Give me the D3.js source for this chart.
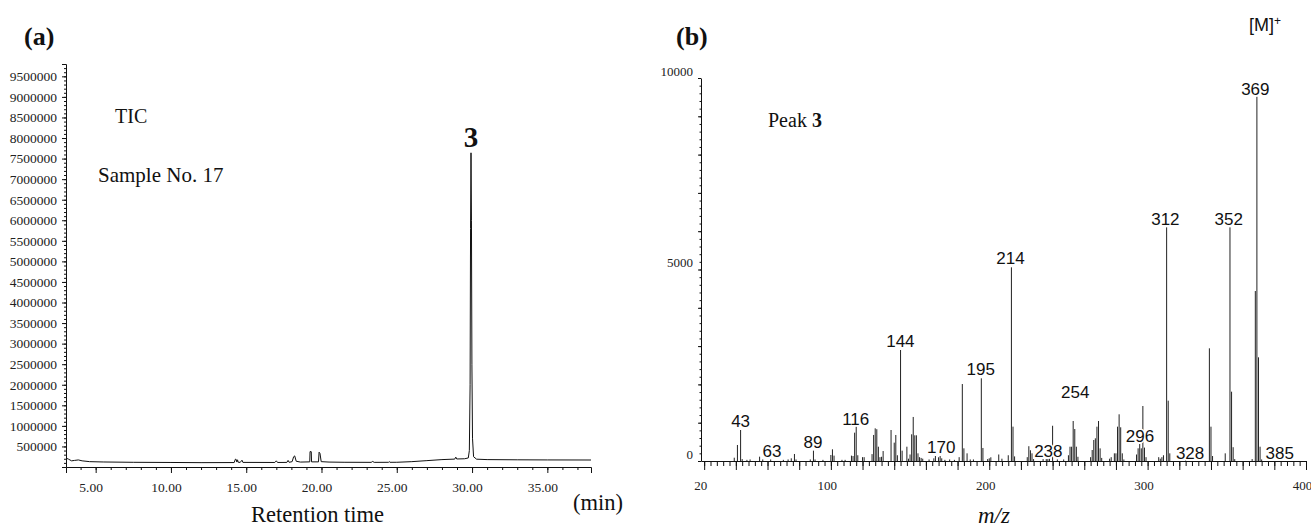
<!DOCTYPE html>
<html>
<head>
<meta charset="utf-8">
<script src="https://cdn.jsdelivr.net/npm/d3@7"></script>
<style>
  body { margin: 0; background: #fff; }
  .serif { font-family: "Liberation Serif", "Times New Roman", serif; }
  .sans { font-family: "Liberation Sans", Arial, sans-serif; }
  .axis path, .axis line { stroke: #111; }
</style>
</head>
<body>
<div id="chart-area"></div>
<script>
// (a) total ion chromatogram, time in min / abundance
var ticTime = [3.05, 3.2, 3.4, 3.6, 3.85, 4.1, 4.6, 5.5, 7.5, 10, 12, 14.2, 14.28, 14.33, 14.38, 14.42, 14.47,
    14.6, 14.72, 14.78, 16.9, 17.0, 17.08, 17.7, 17.78, 17.85, 18.05, 18.15, 18.22, 18.32, 18.6, 19.22, 19.24,
    19.32, 19.34, 19.8, 19.84, 19.9, 19.98, 20.5, 21.5, 23.3, 23.4, 23.5, 24.45, 24.5, 24.55, 25.0, 26.0, 27.0,
    28.0, 28.85, 28.92, 28.98, 29.5, 29.75, 29.82, 29.87, 29.9, 29.93, 29.96, 29.99, 30.03, 30.1, 30.3, 31, 33,
    35, 37.9];
var ticAbund = [215000, 190000, 150000, 160000, 172000, 150000, 130000, 122000, 114000, 110000, 106000, 108000,
    190000, 185000, 120000, 175000, 115000, 112000, 165000, 112000, 110000, 150000, 110000, 112000, 160000,
    114000, 130000, 250000, 270000, 140000, 120000, 125000, 375000, 372000, 125000, 125000, 360000, 330000,
    130000, 120000, 115000, 113000, 135000, 113000, 114000, 130000, 114000, 115000, 130000, 155000, 180000,
    192000, 240000, 195000, 200000, 220000, 400000, 2000000, 5800000, 7640000, 6000000, 2500000, 700000,
    250000, 190000, 180000, 175000, 172000, 170000];
var ticYTicks = d3.range(500000, 9500001, 500000);
var ticXTicks = [5, 10, 15, 20, 25, 30, 35];

// (b) mass spectrum of peak 3
var msMz = [39, 41, 43, 44, 47, 49, 55, 57, 62, 70, 73, 75, 77, 78, 87, 89, 90, 95, 100, 101, 102, 107, 109,
    113, 114, 115, 116, 117, 120, 121, 126, 127, 128, 129, 130, 131, 132, 133, 138, 140, 141, 142, 144, 145,
    148, 149, 150, 151, 152, 153, 154, 155, 156, 157, 158, 162, 165, 166, 168, 169, 170, 172, 175, 178, 181,
    183, 184, 186, 188, 190, 195, 196, 199, 200, 201, 206, 208, 212, 214, 215, 216, 224, 225, 226, 227, 228,
    234, 236, 237, 238, 240, 243, 247, 250, 251, 252, 253, 254, 255, 256, 264, 265, 266, 267, 268, 269, 270,
    271, 276, 277, 279, 280, 281, 282, 283, 284, 285, 293, 294, 295, 296, 297, 298, 299, 307, 308, 309, 310,
    312, 313, 314, 324, 339, 340, 341, 349, 352, 353, 354, 355, 366, 368, 369, 370, 371, 372];
var msAbund = [86, 418, 809, 50, 30, 40, 113, 40, 40, 30, 40, 70, 183, 40, 40, 270, 40, 30, 157, 305, 140, 30, 30,
    140, 130, 740, 897, 150, 100, 100, 180, 680, 853, 830, 373, 100, 110, 260, 809, 479, 679, 150, 2898, 270,
    373, 60, 170, 697, 1150, 671, 671, 200, 100, 80, 60, 40, 70, 130, 97, 130, 70, 30, 40, 30, 100,
    2010, 331, 200, 40, 40, 2159, 340, 50, 70, 97, 170, 60, 150, 5057, 897, 120, 100, 386, 280, 200, 50,
    50, 50, 50, 60, 920, 40, 40, 150, 373, 373, 1044, 835, 373, 110, 100, 287, 548, 592, 896, 1044, 330,
    80, 60, 100, 200, 200, 896, 1219, 880, 200, 40, 170, 331, 443, 331, 1436, 350, 100, 100, 60, 100, 150,
    6100, 1575, 200, 30, 2942, 896, 130, 200, 6100, 1810, 360, 50, 50, 4438, 9512, 2707, 373, 40];
var msLabelText = ["43", "63", "89", "116", "144", "170", "195", "214", "238", "254", "296", "312", "328", "352", "369", "385"];
var msLabelMz = [43, 62.8, 88.7, 115.7, 143.9, 169.7, 194.6, 213.4, 237.3, 254.3, 295.2, 311.2, 326.8, 351.2, 368, 383.4];
var msLabelAbund = [896, 97, 331, 940, 2968, 200, 2245, 5140, 97, 1637, 504, 6162, 44, 6162, 9556, 44];
var msXTicks = [20, 100, 200, 300, 400];
var msYTicks = [0, 5000, 10000];

var svg = d3.select("#chart-area").append("svg")
    .attr("width", 1311)
    .attr("height", 528);

svg.append("rect").attr("width", 1311).attr("height", 528).attr("fill", "#fff");

// ---------- panel (a) ----------
var xA = d3.scaleLinear().domain([3.03, 37.9]).range([66, 591]);
var yA = d3.scaleLinear().domain([0, 9800000]).range([467, 64]);

// minor ticks
svg.append("g").attr("class", "axis")
    .attr("transform", "translate(0,467)")
    .call(d3.axisBottom(xA).tickValues(d3.range(4, 38, 1)).tickSize(3).tickFormat(""))
    .call(g => g.select(".domain").remove());
svg.append("g").attr("class", "axis")
    .attr("transform", "translate(66,0)")
    .call(d3.axisLeft(yA).tickValues(d3.range(100000, 9800001, 100000)).tickSize(2).tickFormat(""))
    .call(g => g.select(".domain").remove());

var xAxisA = svg.append("g").attr("class", "axis serif")
    .attr("transform", "translate(0,467)")
    .call(d3.axisBottom(xA).tickValues(ticXTicks).tickSizeOuter(0).tickSize(6).tickPadding(9)
        .tickFormat(d3.format(".2f")));
xAxisA.selectAll("text").attr("font-size", 13.5).attr("fill", "#222").attr("dx", -5)
    .attr("font-family", "Liberation Serif");

var yAxisA = svg.append("g").attr("class", "axis serif")
    .attr("transform", "translate(66,0)")
    .call(d3.axisLeft(yA).tickValues(ticYTicks).tickSizeOuter(0).tickSize(4).tickPadding(5)
        .tickFormat(d3.format("d")));
yAxisA.selectAll("text").attr("font-size", 13.5).attr("fill", "#222")
    .attr("font-family", "Liberation Serif");

var ticLine = d3.line()
    .x((d, i) => xA(ticTime[i]))
    .y((d) => yA(d));

svg.append("path")
    .datum(ticAbund)
    .attr("fill", "none")
    .attr("stroke", "#111")
    .attr("stroke-width", 1)
    .attr("d", ticLine);

var textA = svg.append("g").attr("class", "serif").attr("fill", "#111");
textA.append("text").attr("x", 24).attr("y", 45).attr("font-size", 26).attr("font-weight", "bold").text("(a)");
textA.append("text").attr("x", 115).attr("y", 123).attr("font-size", 20).text("TIC");
textA.append("text").attr("x", 98).attr("y", 182).attr("font-size", 21).text("Sample No. 17");
textA.append("text").attr("x", xA(29.93)).attr("y", 146.5).attr("font-size", 29).attr("font-weight", "bold")
    .attr("text-anchor", "middle").text("3");
textA.append("text").attr("x", 251).attr("y", 522).attr("font-size", 22.5).text("Retention time");
textA.append("text").attr("x", 573).attr("y", 510).attr("font-size", 22.5).text("(min)");

// ---------- panel (b) ----------
var xB = d3.scaleLinear().domain([18, 400]).range([701, 1306]);
var yB = d3.scaleLinear().domain([0, 10000]).range([461, 78]);

svg.append("g").attr("class", "axis")
    .attr("transform", "translate(0,461)")
    .call(d3.axisBottom(xB).tickValues(d3.range(20, 401, 4)).tickSize(5).tickFormat(""))
    .call(g => g.select(".domain").remove());
svg.append("g").attr("class", "axis")
    .attr("transform", "translate(0,461)")
    .call(d3.axisBottom(xB).tickValues(d3.range(20, 401, 20)).tickSize(9).tickFormat(""))
    .call(g => g.select(".domain").remove());
svg.append("g").attr("class", "axis")
    .attr("transform", "translate(701,0)")
    .call(d3.axisLeft(yB).tickValues(d3.range(0, 10001, 200)).tickSize(1.5).tickFormat(""))
    .call(g => g.select(".domain").remove());
svg.append("g").attr("class", "axis")
    .attr("transform", "translate(701,0)")
    .call(d3.axisLeft(yB).tickValues(d3.range(0, 10001, 1000)).tickSize(3).tickFormat(""))
    .call(g => g.select(".domain").remove());

var xAxisB = svg.append("g").attr("class", "axis serif")
    .attr("transform", "translate(0,461)")
    .call(d3.axisBottom(xB).tickValues(msXTicks).tickSizeOuter(0).tickSize(0).tickPadding(20)
        .tickFormat(d3.format("d")));
xAxisB.selectAll("text").attr("font-size", 13).attr("fill", "#222").attr("dx", -4)
    .attr("font-family", "Liberation Serif");

var yAxisB = svg.append("g").attr("class", "axis serif")
    .attr("transform", "translate(701,0)")
    .call(d3.axisLeft(yB).tickValues(msYTicks).tickSizeOuter(0).tickSize(0).tickPadding(8)
        .tickFormat(d3.format("d")));
yAxisB.selectAll("text").attr("font-size", 13).attr("fill", "#222").attr("dy", "-0.2em")
    .attr("font-family", "Liberation Serif");

// spectrum sticks
svg.append("g").selectAll("line")
    .data(msMz)
    .join("line")
    .attr("x1", (d) => xB(d))
    .attr("x2", (d) => xB(d))
    .attr("y1", yB(0))
    .attr("y2", (d, i) => yB(msAbund[i]))
    .attr("stroke", "#222")
    .attr("stroke-width", 1);

// peak labels, white halo over the sticks
svg.append("g").attr("class", "sans").selectAll("text")
    .data(msLabelText)
    .join("text")
    .attr("x", (d, i) => xB(msLabelMz[i]))
    .attr("y", (d, i) => yB(msLabelAbund[i]))
    .attr("text-anchor", "middle")
    .attr("font-size", 17)
    .attr("fill", "#111")
    .attr("stroke", "#fff")
    .attr("stroke-width", 3)
    .attr("paint-order", "stroke")
    .text((d) => d);

var textB = svg.append("g").attr("fill", "#111");
textB.append("text").attr("class", "serif").attr("x", 676).attr("y", 45).attr("font-size", 26)
    .attr("font-weight", "bold").text("(b)");
var peakLabel = textB.append("text").attr("class", "serif").attr("x", 768).attr("y", 127).attr("font-size", 20);
peakLabel.append("tspan").text("Peak ");
peakLabel.append("tspan").attr("font-weight", "bold").text("3");
var mLabel = textB.append("text").attr("class", "sans").attr("x", 1249).attr("y", 31).attr("font-size", 18);
mLabel.append("tspan").text("[M]");
mLabel.append("tspan").attr("font-size", 12).attr("dy", -6).text("+");
textB.append("text").attr("class", "serif").attr("x", 978).attr("y", 523).attr("font-size", 23)
    .attr("font-style", "italic").text("m/z");
</script>
</body>
</html>
